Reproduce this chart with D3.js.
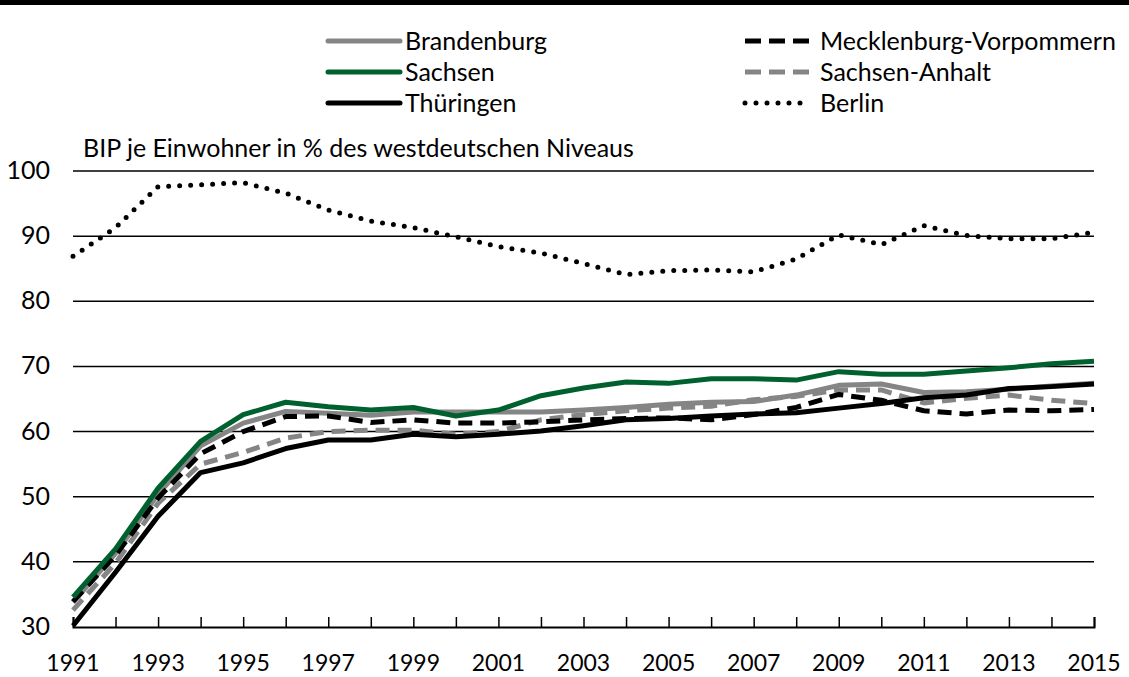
<!DOCTYPE html>
<html>
<head>
<meta charset="utf-8">
<script src="https://cdn.jsdelivr.net/npm/d3@7"></script>
<style>
  body { margin: 0; background: #fff; }
  text { font-family: Lato, "Open Sans", sans-serif; fill: #000; }
</style>
</head>
<body>
<script>
// years and values (% of west German level)
var years = d3.range(1991, 2016);
var brandenburg = [33.8, 41.3, 50.4, 57.8, 61.3, 63.1, 62.8, 62.5, 63.0, 63.0, 63.0, 63.0, 63.3, 63.7, 64.2, 64.5, 64.6, 65.6, 67.1, 67.3, 66.0, 66.1, 66.5, 67.0, 67.4];
var sachsen = [34.6, 42.0, 51.3, 58.5, 62.6, 64.5, 63.8, 63.3, 63.7, 62.4, 63.3, 65.5, 66.7, 67.6, 67.4, 68.1, 68.1, 67.9, 69.2, 68.8, 68.8, 69.3, 69.8, 70.4, 70.8];
var thueringen = [30.2, 38.4, 47.0, 53.7, 55.2, 57.4, 58.7, 58.7, 59.6, 59.2, 59.6, 60.1, 60.9, 61.8, 62.0, 62.4, 62.7, 62.9, 63.6, 64.3, 65.2, 65.6, 66.6, 66.9, 67.3];
var meckPomm = [33.9, 41.0, 49.8, 56.6, 60.0, 62.3, 62.4, 61.4, 61.8, 61.3, 61.3, 61.5, 61.8, 62.0, 62.1, 61.8, 62.6, 63.7, 65.7, 64.8, 63.2, 62.7, 63.3, 63.2, 63.4];
var sachsenAnhalt = [32.6, 39.8, 49.0, 55.0, 56.8, 59.0, 60.0, 60.2, 60.2, 59.6, 60.0, 61.8, 62.6, 63.2, 63.6, 63.9, 64.9, 65.4, 66.4, 66.4, 64.4, 65.1, 65.6, 64.8, 64.3];
var berlin = [86.9, 91.3, 97.6, 97.9, 98.2, 96.6, 94.0, 92.3, 91.3, 89.9, 88.4, 87.4, 85.8, 84.1, 84.7, 84.8, 84.5, 86.5, 90.2, 88.7, 91.6, 90.1, 89.6, 89.6, 90.6];
var yTicks = [30, 40, 50, 60, 70, 80, 90, 100];
var xLabels = d3.range(1991, 2016, 2);

var series = [
  { name: "Brandenburg", values: brandenburg, color: "#858585", dash: null, col: 0 },
  { name: "Sachsen", values: sachsen, color: "#00612f", dash: null, col: 0 },
  { name: "Thüringen", values: thueringen, color: "#000000", dash: null, col: 0 },
  { name: "Mecklenburg-Vorpommern", values: meckPomm, color: "#000000", dash: "14 8", col: 1 },
  { name: "Sachsen-Anhalt", values: sachsenAnhalt, color: "#858585", dash: "14 8", col: 1 },
  { name: "Berlin", values: berlin, color: "#000000", dash: "0 11", col: 1 }
];
var drawOrder = [5, 0, 4, 3, 1, 2];

var W = 1129, H = 677;
var svg = d3.select("body").append("svg").attr("width", W).attr("height", H);

// top bar
svg.append("rect").attr("x", 0).attr("y", 0).attr("width", W).attr("height", 5).attr("fill", "#000");

var x = d3.scaleLinear().domain([1991, 2015]).range([73, 1094]);
var y = d3.scaleLinear().domain([30, 100]).range([627, 171]);

// gridlines
svg.append("g").selectAll("line").data(yTicks.filter(function(d){ return d > 30; }))
  .enter().append("line")
  .attr("x1", x(1991)).attr("x2", x(2015))
  .attr("y1", function(d){ return y(d); }).attr("y2", function(d){ return y(d); })
  .attr("stroke", "#000").attr("stroke-width", 1.5);

// y labels
svg.append("g").selectAll("text").data(yTicks).enter().append("text")
  .attr("x", 50).attr("y", function(d){ return y(d) + 8; })
  .attr("text-anchor", "end").attr("font-size", 25)
  .text(function(d){ return d; });

// subtitle
svg.append("text").attr("x", 83).attr("y", 157).attr("font-size", 25)
  .text("BIP je Einwohner in % des westdeutschen Niveaus");

// lines
var line = d3.line()
  .x(function(d, i){ return x(years[i]); })
  .y(function(d){ return y(d); });

drawOrder.forEach(function(k){
  var s = series[k];
  svg.append("path").datum(s.values)
    .attr("d", line)
    .attr("fill", "none")
    .attr("stroke", s.color)
    .attr("stroke-width", 5)
    .attr("stroke-linecap", s.name == "Berlin" ? "round" : "butt")
    .attr("stroke-linejoin", "round")
    .attr("stroke-dasharray", s.dash);
});

// x axis
var xAxis = d3.axisBottom(x).tickValues(years).tickSize(-10).tickFormat("");
var gx = svg.append("g").attr("transform", "translate(0," + y(30) + ")").call(xAxis);
gx.select(".domain").attr("stroke", "#000").attr("stroke-width", 2);
gx.selectAll(".tick line").attr("stroke", "#000").attr("stroke-width", 1.5);

svg.append("g").selectAll("text").data(xLabels).enter().append("text")
  .attr("x", function(d){ return x(d); }).attr("y", 671)
  .attr("text-anchor", "middle").attr("font-size", 23)
  .text(function(d){ return d; });

// legend
var legX = [328, 745], legY = [41, 72, 103];
var rows = [0, 0];
series.forEach(function(s){
  var r = rows[s.col]++;
  var lx = legX[s.col], ly = legY[r];
  svg.append("line")
    .attr("x1", lx).attr("x2", lx + (s.col ? 65 : 72))
    .attr("y1", ly).attr("y2", ly)
    .attr("stroke", s.color).attr("stroke-width", 5)
    .attr("stroke-linecap", s.name == "Berlin" ? "round" : (s.dash ? "butt" : "round"))
    .attr("stroke-dasharray", s.dash ? (s.name == "Berlin" ? "0 11" : "16 8") : null);
  svg.append("text").attr("x", lx + (s.col ? 75 : 77)).attr("y", ly + 9)
    .attr("font-size", 25).text(s.name);
});
</script>
</body>
</html>
